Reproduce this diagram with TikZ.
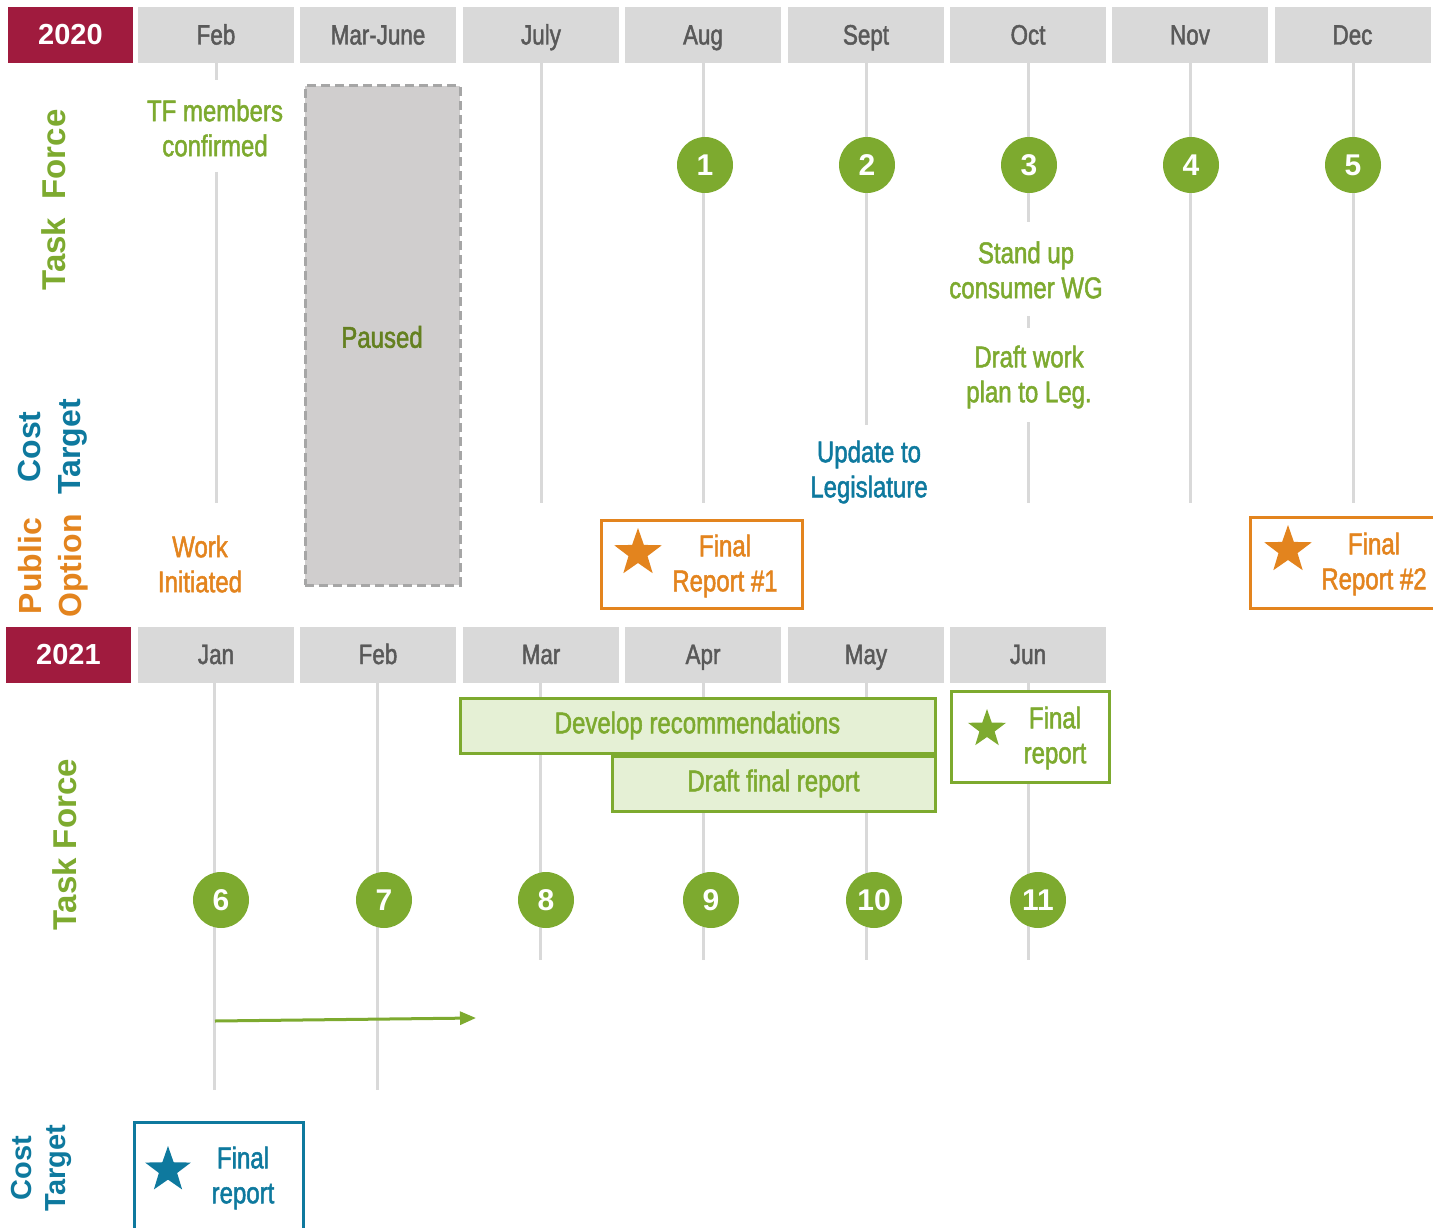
\documentclass[tikz,border=0pt]{standalone}
\usepackage{fontspec}
\setmainfont{Liberation Sans}
\newfontfamily\condf{Liberation Sans}[FakeStretch=0.8,FakeBold=1.6]
\usetikzlibrary{shapes.geometric,arrows.meta}
\definecolor{yearred}{RGB}{160,27,62}
\definecolor{hdrgray}{RGB}{217,217,217}
\definecolor{monthtxt}{RGB}{89,89,89}
\definecolor{gridgray}{RGB}{217,217,217}
\definecolor{tfgreen}{RGB}{125,170,47}
\definecolor{pausegreen}{RGB}{100,128,32}
\definecolor{pausefill}{RGB}{208,206,206}
\definecolor{pauseedge}{RGB}{166,166,166}
\definecolor{poorange}{RGB}{227,132,30}
\definecolor{ctblue}{RGB}{14,121,158}
\definecolor{lightgreen}{RGB}{229,240,213}
\begin{document}
\begin{tikzpicture}[x=1pt,y=-1pt,
  yearbox/.style={rectangle, fill=yearred, minimum width=125pt, minimum height=56pt, inner sep=0pt, text=white, font=\bfseries\fontsize{29}{29}\selectfont},
  monthbox/.style={rectangle, fill=hdrgray, minimum width=156pt, minimum height=56pt, inner sep=0pt, text height=22pt, text depth=3pt, text=monthtxt, font=\condf\fontsize{28}{28}\selectfont},
  grid/.style={draw=gridgray, line width=3pt},
  milestone/.style={circle, fill=tfgreen, minimum size=56pt, inner sep=0pt, text=white, font=\bfseries\fontsize{30}{30}\selectfont},
  lbl/.style={align=center, inner sep=0pt, font=\condf\fontsize{30}{35}\selectfont},
  rowlbl/.style={rotate=90, align=center, inner sep=0pt, font=\bfseries\fontsize{33}{40}\selectfont},
  repbox/.style={rectangle, draw, line width=3pt, fill=white, inner sep=0pt},
  starmark/.style={star, star points=5, star point ratio=2.5, inner sep=0pt},
  taskbar/.style={rectangle, draw=tfgreen, fill=lightgreen, line width=3pt, inner sep=0pt, minimum height=55pt, text=tfgreen, font=\condf\fontsize{30}{35}\selectfont}
]
\useasboundingbox (0,0) rectangle (1433,1228);
\clip (0,0) rectangle (1433,1228);

% ---------- 2020 header ----------
\node[yearbox] (y2020) at (70.5,35) {2020};
\node[monthbox] (feb20) at (216,35) {Feb};
\node[monthbox] (mar20) at (378,35) {Mar-June};
\node[monthbox] (jul20) at (541,35) {July};
\node[monthbox] (aug20) at (703,35) {Aug};
\node[monthbox] (sep20) at (866,35) {Sept};
\node[monthbox] (oct20) at (1028,35) {Oct};
\node[monthbox] (nov20) at (1190,35) {Nov};
\node[monthbox] (dec20) at (1352.5,35) {Dec};

% ---------- 2020 grid lines ----------
\draw[grid] (feb20.south) -- (216,80);
\draw[grid] (216,172) -- (216,503);
\draw[grid] (jul20.south) -- (541,503);
\draw[grid] (aug20.south) -- (703,503);
\draw[grid] (sep20.south) -- (866,425);
\draw[grid] (oct20.south) -- (1028,222);
\draw[grid] (1028,316) -- (1028,328);
\draw[grid] (1028,422) -- (1028,503);
\draw[grid] (nov20.south) -- (1190,503);
\draw[grid] (1353,63) -- (1353,503);

% ---------- 2020 row labels ----------
\node[rowlbl, text=tfgreen] (tf20) at (54,200) {Task\ \ Force};
\node[rowlbl, text=ctblue, font=\bfseries\fontsize{32}{40}\selectfont] (ct20) at (53,447) {Cost\\Target};
\node[rowlbl, text=poorange, font=\bfseries\fontsize{32}{40}\selectfont] (po20) at (53,566) {Public\\Option};

% ---------- 2020 content ----------
\node[rectangle, fill=pausefill, draw=pauseedge, dashed, dash pattern=on 9pt off 5pt, line width=3pt, minimum width=155pt, minimum height=499pt, inner sep=0pt] (paused) at (382.5,335.5) {};
\node[lbl, text=pausegreen] (pausedtxt) at (382,337) {Paused};

\node[lbl, text=tfgreen] (tfconf) at (215,128) {TF members\\confirmed};
\node[lbl, text=tfgreen] (standup) at (1026,270) {Stand up\\consumer WG};
\node[lbl, text=tfgreen] (draftwp) at (1029,377) {Draft work\\plan to Leg.};
\node[lbl, text=ctblue] (update) at (869,472) {Update to\\Legislature};
\node[lbl, text=poorange] (workinit) at (200,564) {Work\\Initiated};

\node[milestone] (m1) at (705,165) {1};
\node[milestone] (m2) at (867,165) {2};
\node[milestone] (m3) at (1029,165) {3};
\node[milestone] (m4) at (1191,165) {4};
\node[milestone] (m5) at (1353,165) {5};

\node[repbox, draw=poorange, minimum width=201pt, minimum height=88pt] (fr1) at (701.5,564) {};
\node[starmark, fill=poorange, minimum size=50pt] (fr1star) at (638,553) {};
\node[lbl, text=poorange] (fr1txt) at (725,566) {Final\\Report \#1};

\node[repbox, draw=poorange, minimum width=201pt, minimum height=91pt] (fr2) at (1350.5,562.5) {};
\node[starmark, fill=poorange, minimum size=50pt] (fr2star) at (1288,550) {};
\node[lbl, text=poorange] (fr2txt) at (1374,564) {Final\\Report \#2};

% ---------- 2021 header ----------
\node[yearbox] (y2021) at (68.5,654.5) {2021};
\node[monthbox] (jan21) at (216,654.5) {Jan};
\node[monthbox] (feb21) at (378,654.5) {Feb};
\node[monthbox] (mar21) at (541,654.5) {Mar};
\node[monthbox] (apr21) at (703,654.5) {Apr};
\node[monthbox] (may21) at (866,654.5) {May};
\node[monthbox] (jun21) at (1028,654.5) {Jun};

% ---------- 2021 grid lines ----------
\draw[grid] (214,682) -- (214,1090);
\draw[grid] (377,682) -- (377,1090);
\draw[grid] (540,682) -- (540,960);
\draw[grid] (apr21.south) -- (703,960);
\draw[grid] (may21.south) -- (866,960);
\draw[grid] (jun21.south) -- (1028,960);

% ---------- 2021 row labels ----------
\node[rowlbl, text=tfgreen] (tf21) at (65,845) {Task Force};
\node[rowlbl, text=ctblue, font=\bfseries\fontsize{29}{34}\selectfont] (ct21) at (41,1168) {Cost\\Target};

% ---------- 2021 content ----------
\node[taskbar, minimum width=475pt] (devrec) at (697.5,725.5) {Develop recommendations};
\node[taskbar, minimum width=323pt] (draftfr) at (773.5,783.5) {Draft final report};

\node[repbox, draw=tfgreen, minimum width=158pt, minimum height=91pt] (frtf) at (1030,736.5) {};
\node[starmark, fill=tfgreen, minimum size=40pt] (frtfstar) at (987,729) {};
\node[lbl, text=tfgreen] (frtftxt) at (1055,738) {Final\\report};

\node[milestone] (m6) at (221,900) {6};
\node[milestone] (m7) at (384,900) {7};
\node[milestone] (m8) at (546,900) {8};
\node[milestone] (m9) at (711,900) {9};
\node[milestone] (m10) at (874,900) {10};
\node[milestone] (m11) at (1038,900) {11};

\coordinate (arrstart) at (215,1021);
\coordinate (arrend) at (476,1018);
\draw[draw=tfgreen, line width=3pt, -{Triangle[length=16pt,width=13pt]}] (arrstart) -- (arrend);

\node[repbox, draw=ctblue, minimum width=169pt, minimum height=120pt] (frct) at (218.5,1182) {};
\node[starmark, fill=ctblue, minimum size=48pt] (frctstar) at (168,1170) {};
\node[lbl, text=ctblue] (frcttxt) at (243,1178) {Final\\report};
\end{tikzpicture}
\end{document}
